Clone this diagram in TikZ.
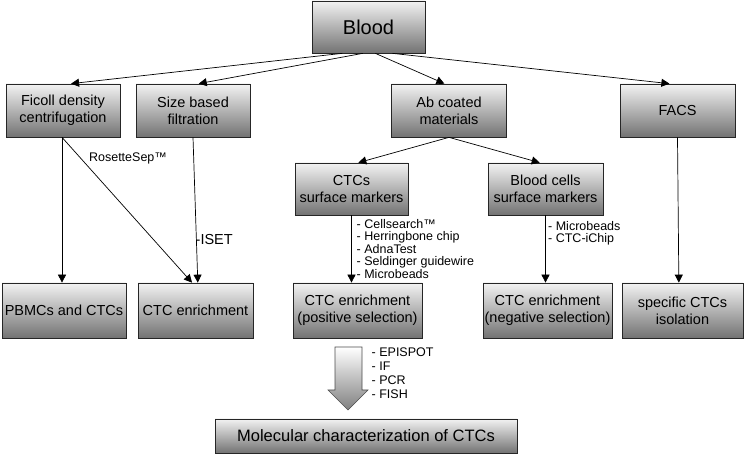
\documentclass[tikz,border=0pt]{standalone}
\usepackage{fontspec}
\setmainfont{Liberation Sans}
\usetikzlibrary{arrows.meta,calc}
\begin{document}
\begin{tikzpicture}[x=1pt,y=-1pt,
  box/.style={draw=black!85, line width=0.7pt, top color=black!5, bottom color=black!55,
    align=center, inner sep=0pt, font=\fontsize{14.5}{17}\selectfont},
  conn/.style={line width=0.7pt, -{Triangle[length=8pt,width=8pt]}},
  lbl/.style={font=\fontsize{12.5}{12.5}\selectfont, align=left, inner sep=0pt}
]
\useasboundingbox (0,0) rectangle (745,454);

% top
\node[box, minimum width=113pt, minimum height=52pt, font=\fontsize{20}{24}\selectfont] (blood) at (368.5,27) {Blood};

% second row
\node[box, minimum width=114pt, minimum height=53pt] (ficoll) at (63,110.5) {Ficoll density\\centrifugation};
\node[box, minimum width=114pt, minimum height=53pt] (size) at (193,110.5) {Size based\\filtration};
\node[box, minimum width=115pt, minimum height=53pt] (ab) at (449,110.5) {Ab coated\\materials};
\node[box, minimum width=115pt, minimum height=53pt] (facs) at (677.5,110.5) {FACS};

% third row
\node[box, minimum width=113pt, minimum height=52pt] (ctcs) at (351.5,189) {CTCs\\surface markers};
\node[box, minimum width=115pt, minimum height=52pt] (bcells) at (545.5,189) {Blood cells\\surface markers};

% bottom row
\node[box, minimum width=124pt, minimum height=55pt] (pbmc) at (64,310.5) {PBMCs and CTCs};
\node[box, minimum width=115pt, minimum height=55pt] (enr) at (195.5,310.5) {CTC enrichment};
\node[box, minimum width=129pt, minimum height=55pt] (pos) at (357.5,310.5) {CTC enrichment\\(positive selection)};
\node[box, minimum width=129pt, minimum height=55pt] (neg) at (547.5,310.5) {CTC enrichment\\(negative selection)};
\node[box, minimum width=121pt, minimum height=55pt] (spec) at (682.5,310.5) {specific CTCs\\isolation};

% final
\node[box, minimum width=302pt, minimum height=34pt, font=\fontsize{16.5}{19}\selectfont] (mol) at (366,436) {Molecular characterization of CTCs};

% connectors from blood
\draw[conn] ($(blood.south west)!0.27!(blood.south east)$) -- ($(ficoll.north west)!0.57!(ficoll.north east)$);
\draw[conn] ($(blood.south west)!0.45!(blood.south east)$) -- ($(size.north west)!0.55!(size.north east)$);
\draw[conn] ($(blood.south west)!0.56!(blood.south east)$) -- ($(ab.north west)!0.46!(ab.north east)$);
\draw[conn] ($(blood.south west)!0.71!(blood.south east)$) -- ($(facs.north west)!0.43!(facs.north east)$);

% ab to markers
\draw[conn] (ab.south) -- ($(ctcs.north west)!0.56!(ctcs.north east)$);
\draw[conn] (ab.south) -- ($(bcells.north west)!0.45!(bcells.north east)$);

% ficoll and size
\draw[conn] ($(ficoll.south)+(-1,0)$) coordinate (fs) -- (fs |- pbmc.north);
\draw[conn] (fs) -- ($(enr.north west)!0.47!(enr.north east)$);
\draw[conn] (size.south) -- ($(enr.north west)!0.52!(enr.north east)$);
\node[lbl] (rosette) at (128,158) {RosetteSep™};
\node[lbl, anchor=west, font=\fontsize{14.5}{14.5}\selectfont] (iset) at (195.5,240) {-ISET};

% markers to enrichment
\draw[conn] (ctcs.south) -- (ctcs.south |- pos.north);
\draw[conn] (bcells.south) -- (bcells.south |- neg.north);
\draw[conn] (facs.south) -- ($(spec.north west)!0.47!(spec.north east)$);

\node[lbl, anchor=north west] (poslist) at (356.5,219) {- Cellsearch™\\- Herringbone chip\\- AdnaTest\\- Seldinger guidewire\\- Microbeads};
\node[lbl, anchor=north west] (neglist) at (548,221) {- Microbeads\\- CTC-iChip};

% big arrow
\draw[draw=black!70, line width=0.6pt, top color=white, bottom color=black!50]
  (335,347) -- (362,347) -- (362,390) -- (368,390) -- (348,410) -- (328,390) -- (335,390) -- cycle;
\node[lbl, anchor=north west, font=\fontsize{12.5}{13.7}\selectfont] (methods) at (371.5,348) {- EPISPOT\\- IF\\- PCR\\- FISH};

\end{tikzpicture}
\end{document}
